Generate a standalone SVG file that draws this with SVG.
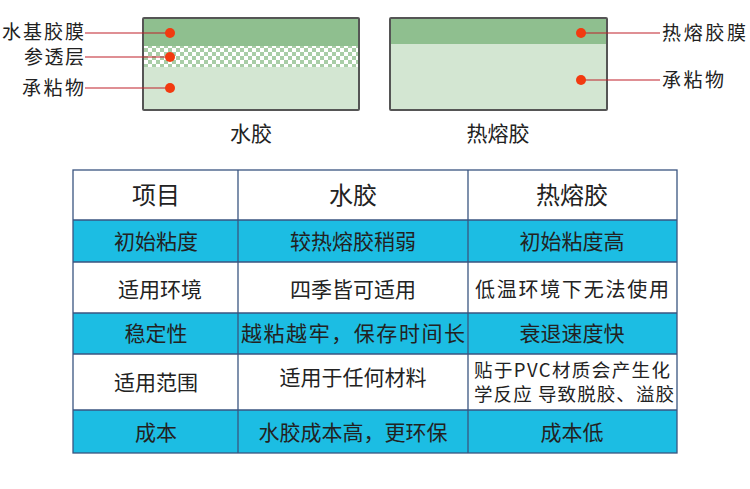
<svg xmlns="http://www.w3.org/2000/svg" width="750" height="489" viewBox="0 0 750 489">
<defs>
<pattern id="chk" width="8" height="8" patternUnits="userSpaceOnUse">
<rect width="8" height="8" fill="#ffffff"/>
<rect width="4" height="4" fill="#a9cda7"/>
<rect x="4" y="4" width="4" height="4" fill="#a9cda7"/>
</pattern>
<style>
text{font-family:"Noto Sans CJK SC","Noto Sans",sans-serif;fill:#222}
.lab{font-size:19px}
.cap{font-size:21px;text-anchor:middle}
.th{font-size:24px;text-anchor:middle}
.td{font-size:21px;text-anchor:middle}
.blue{fill:#1cbde3}
.ln{stroke:#c0202a;stroke-width:1.2}
.dot{fill:#f23a10}
</style>
</defs>
<rect width="750" height="489" fill="#fff"/>
<g id="waterglue">
<rect x="143" y="18" width="216" height="92" fill="#d3e6d2"/>
<rect x="143" y="18" width="216" height="28" fill="#8fbf8f"/>
<rect x="143" y="46" width="216" height="21" fill="url(#chk)"/>
<rect x="143" y="18" width="216" height="92" fill="none" stroke="#555" stroke-width="2" rx="1"/>
<text class="cap" x="251" y="141">水胶</text>
</g>
<g id="hotmelt">
<rect x="390" y="18" width="217" height="92" fill="#d3e6d2"/>
<rect x="390" y="18" width="217" height="26" fill="#8fbf8f"/>
<rect x="390" y="18" width="217" height="92" fill="none" stroke="#555" stroke-width="2" rx="1"/>
<text class="cap" x="498" y="141">热熔胶</text>
</g>
<g id="connectors">
<line class="ln" x1="85" y1="33" x2="170" y2="33"/>
<line class="ln" x1="85" y1="57" x2="170" y2="57"/>
<line class="ln" x1="85" y1="88" x2="170" y2="88"/>
<line class="ln" x1="581" y1="33" x2="660" y2="33"/>
<line class="ln" x1="581" y1="80" x2="660" y2="80"/>
<circle class="dot" cx="170" cy="33" r="5"/>
<circle class="dot" cx="170" cy="57" r="5"/>
<circle class="dot" cx="170" cy="88" r="5"/>
<circle class="dot" cx="581" cy="33" r="5"/>
<circle class="dot" cx="581" cy="80" r="5"/>
</g>
<g id="labels">
<text class="lab" x="84" y="39" text-anchor="end" textLength="82">水基胶膜</text>
<text class="lab" x="84" y="64" text-anchor="end" textLength="60">参透层</text>
<text class="lab" x="84" y="95" text-anchor="end" textLength="62">承粘物</text>
<text class="lab" x="662" y="40" textLength="84">热熔胶膜</text>
<text class="lab" x="662" y="87" textLength="62">承粘物</text>
</g>
<g id="table">
<rect class="blue" x="73" y="220" width="604" height="42"/>
<rect class="blue" x="73" y="313" width="604" height="41"/>
<rect class="blue" x="73" y="410" width="604" height="43"/>
<g stroke="#3a5580" stroke-width="1.3" fill="none">
<rect x="73" y="170" width="604" height="283"/>
<line x1="73" y1="220" x2="677" y2="220"/>
<line x1="73" y1="262" x2="677" y2="262"/>
<line x1="73" y1="313" x2="677" y2="313"/>
<line x1="73" y1="354" x2="677" y2="354"/>
<line x1="73" y1="410" x2="677" y2="410"/>
<line x1="238" y1="170" x2="238" y2="453"/>
<line x1="468" y1="170" x2="468" y2="453"/>
</g>
<text class="th" x="156" y="204">项目</text>
<text class="th" x="353" y="204">水胶</text>
<text class="th" x="572" y="204">热熔胶</text>
<text class="td" x="156" y="249">初始粘度</text>
<text class="td" x="353" y="249">较热熔胶稍弱</text>
<text class="td" x="572" y="249">初始粘度高</text>
<text class="td" x="160" y="297">适用环境</text>
<text class="td" x="353" y="297">四季皆可适用</text>
<text class="td" x="572" y="297" style="font-size:20px" textLength="194">低温环境下无法使用</text>
<text class="td" x="353" y="341" textLength="224">越粘越牢，保存时间长</text>
<text class="td" x="156" y="341">稳定性</text>
<text class="td" x="572" y="341">衰退速度快</text>
<text class="td" x="156" y="390">适用范围</text>
<text class="td" x="353" y="385">适用于任何材料</text>
<text x="474" y="377" style="font-size:18.5px" textLength="196">贴于PVC材质会产生化</text>
<text x="474" y="401" style="font-size:18.5px" textLength="200">学反应 导致脱胶、溢胶</text>
<text class="td" x="156" y="440">成本</text>
<text class="td" x="353" y="440">水胶成本高，更环保</text>
<text class="td" x="572" y="440">成本低</text>
</g>
</svg>
